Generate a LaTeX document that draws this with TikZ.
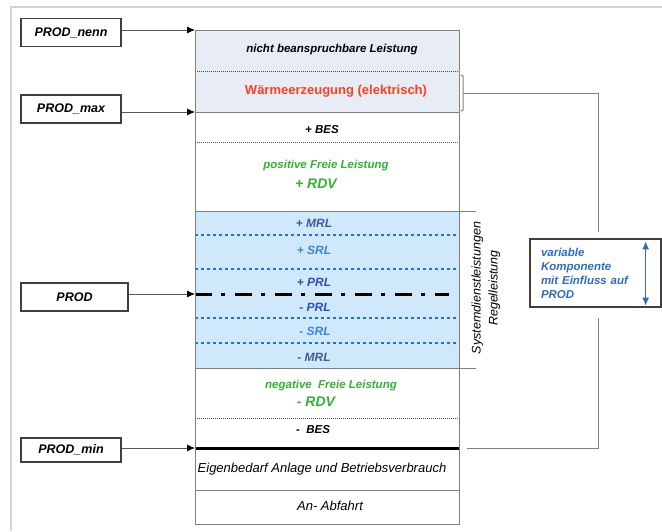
\documentclass[tikz,border=0pt]{standalone}
\usepackage{fontspec}
\setmainfont{Liberation Sans}
\usepackage{tikz}
\usetikzlibrary{arrows.meta,positioning}

\definecolor{rahmen}{HTML}{D3D3D3}
\definecolor{linie}{HTML}{808080}
\definecolor{grauflaeche}{HTML}{E8ECF5}
\definecolor{blauflaeche}{HTML}{CFE9FB}
\definecolor{gruen}{HTML}{33B233}
\definecolor{rot}{HTML}{FF3F1F}
\definecolor{mrlblau}{HTML}{3A5E9C}
\definecolor{srlblau}{HTML}{3C82E0}
\definecolor{prlblau}{HTML}{2E4FBF}
\definecolor{punktblau}{HTML}{1F6FE6}
\definecolor{varblau}{HTML}{2E6CC2}

\begin{document}
\begin{tikzpicture}[x=1pt,y=-1pt,>={Latex[length=8pt,width=7pt]},
    prod/.style={draw=black!75,line width=1.3pt,minimum width=100pt,minimum height=28pt,inner sep=0pt,
      font=\fontsize{12.5}{14}\selectfont\bfseries\itshape},
    zu/.style={-{Latex[length=8pt,width=7pt,color=black]},draw=black!65,line width=0.8pt},
    zeile/.style={font=\fontsize{11.5}{13}\selectfont\bfseries\itshape},
    zeileplain/.style={font=\fontsize{13}{15}\selectfont\itshape},
    gruenzeile/.style={zeile,text=gruen},
    rdv/.style={font=\fontsize{14}{16}\selectfont\bfseries\itshape,text=gruen},
    rl/.style={font=\fontsize{12}{14}\selectfont\bfseries\itshape},
    feinpunkt/.style={draw=black!70,line width=0.7pt,dash pattern=on 1pt off 1pt},
    blaupunkt/.style={draw=punktblau,line width=2.8pt,dash pattern=on 2.8pt off 3.2pt},
    strichpunkt/.style={draw=black,line width=3pt,dash pattern=on 17pt off 9pt on 4pt off 10pt},
    verbinder/.style={draw=linie,line width=1pt}]

  \useasboundingbox (0,0) rectangle (662,531);
  \draw[rahmen,line width=1.5pt] (11,531) -- (11,7) -- (662,7);

  % Saeule
  \fill[grauflaeche] (195,30) rectangle (459,112);
  \fill[blauflaeche] (195,211) rectangle (459,368);
  \draw[feinpunkt] (195,71) -- (459,71);
  \draw[linie] (195,112) -- (459,112);
  \draw[feinpunkt] (195,142) -- (459,142);
  \draw[linie] (195,211) -- (476,211);
  \draw[linie] (195,368) -- (476,368);
  \foreach \y in {235,269,318,343}
    \draw[blaupunkt] (195,\y) -- (459,\y);
  \draw[strichpunkt] (195,294) -- (449,294);
  \draw[feinpunkt] (195,418) -- (459,418);
  \draw[black,line width=3pt] (195,448) -- (459,448);
  \draw[linie] (195,490) -- (459,490);
  \draw[linie,line width=1pt] (195,30) rectangle (459,524);

  \coordinate (nennIn) at (195,30);
  \coordinate (maxIn) at (195,112);
  \coordinate (prodIn) at (195,294);
  \coordinate (minIn) at (195,448);

  \node[zeile] (nicht) at (332,50) {nicht beanspruchbare Leistung};
  \node[font=\fontsize{13}{15}\selectfont\bfseries,text=rot] (waerme) at (336,91) {Wärmeerzeugung (elektrisch)};
  \node[zeile] (plusbes) at (322,130) {+ BES};
  \node[gruenzeile] (posfrei) at (326,166) {positive Freie Leistung};
  \node[rdv] (plusrdv) at (316,184) {+ RDV};
  \node[rl,text=mrlblau] (plusmrl) at (314,223) {+ MRL};
  \node[rl,text=srlblau] (plussrl) at (314,250) {+ SRL};
  \node[rl,text=prlblau] (plusprl) at (314,282) {+ PRL};
  \node[rl,text=prlblau] (minusprl) at (315,307) {- PRL};
  \node[rl,text=srlblau] (minussrl) at (315,331) {- SRL};
  \node[rl,text=mrlblau] (minusmrl) at (314,357) {- MRL};
  \node[gruenzeile] (negfrei) at (331,386) {negative\ \ Freie Leistung};
  \node[rdv] (minusrdv) at (316,402) {- RDV};
  \node[zeile] (minusbes) at (313,430) {-\ \ BES};
  \node[zeileplain] (eigen) at (322,469) {Eigenbedarf Anlage und Betriebsverbrauch};
  \node[zeileplain] (anab) at (330,506) {An- Abfahrt};

  \node[font=\fontsize{12.5}{17}\selectfont\itshape,rotate=90,align=center] (sdl) at (486,288)
    {Systemdienstleistungen\\Regelleistung};

  \node[prod] (nenn) at (71,32.5) {PROD\_nenn};
  \node[prod] (max) at (71,109) {PROD\_max};
  \node[prod,minimum width=107pt] (prod) at (74.5,297) {PROD};
  \node[prod,minimum height=24pt] (min) at (71,450) {PROD\_min};

  \draw[zu] (nenn.east |- nennIn) -- (nennIn);
  \draw[zu] (max.east |- maxIn) -- (maxIn);
  \draw[zu] (prod.east |- prodIn) -- (prodIn);
  \draw[zu] (min.east |- minIn) -- (minIn);

  \node[draw=black!75,line width=1.3pt,minimum width=131pt,minimum height=68pt,text width=109pt,
    align=left,inner sep=0pt,font=\fontsize{11.5}{14}\selectfont\bfseries\itshape,text=varblau]
    (var) at (595.5,273) {variable\\Komponente\\mit Einfluss auf\\PROD};
  \draw[<->,varblau,line width=1.2pt] ([xshift=-16pt,yshift=-3pt]var.north east)
    -- ([xshift=-16pt,yshift=2pt]var.south east);

  \draw[verbinder] (461,75) -- (463,76) -- (463,110) -- (461,111);
  \coordinate (klammer) at (463,93);
  \coordinate (minRechts) at (467,448);
  \draw[verbinder] (klammer) -| ([xshift=2.5pt,yshift=6pt]var.north);
  \draw[verbinder] ([xshift=2.5pt,yshift=-10pt]var.south) |- (minRechts);
\end{tikzpicture}
\end{document}
